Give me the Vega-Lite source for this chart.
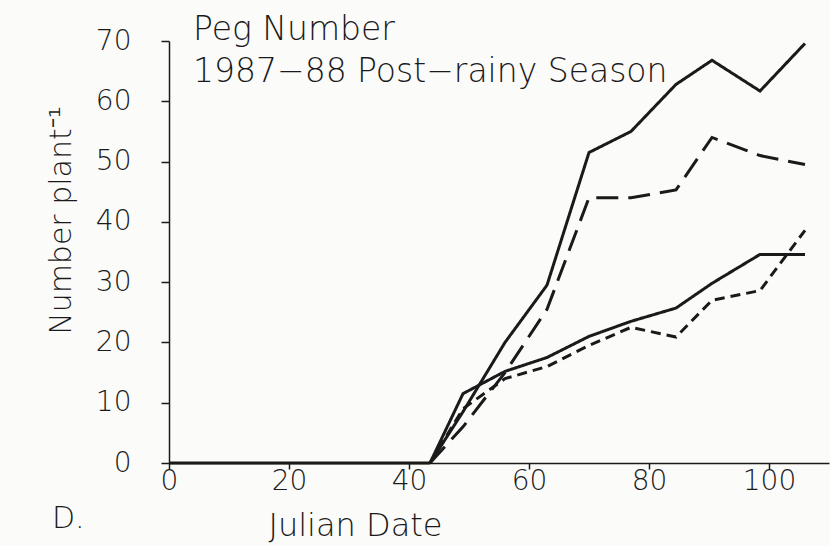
{
  "$schema": "https://vega.github.io/schema/vega-lite/v6.json",
  "autosize": "none",
  "width": 660,
  "height": 422,
  "padding": {"left": 169, "top": 41, "right": 1, "bottom": 83},
  "background": "#fbfbfa",
  "config": {
    "view": {"stroke": null},
    "font": "DejaVu Sans",
    "axis": {"domainColor": "#1a1a1a", "tickColor": "#1a1a1a", "labelColor": "#1a1a1a", "titleColor": "#1a1a1a", "grid": false, "labelFont": "DejaVu Sans", "titleFont": "DejaVu Sans", "labelFontWeight": 200, "titleFontWeight": 200, "domainWidth": 1.5, "tickWidth": 1.5}
  },
  "layer": [
    {
      "data": {"values": [
        {"day": 43.5, "n": 0, "s": "A"}, {"day": 49, "n": 8.5, "s": "A"}, {"day": 56, "n": 20, "s": "A"}, {"day": 63, "n": 29.5, "s": "A"}, {"day": 70, "n": 51.5, "s": "A"}, {"day": 77, "n": 55, "s": "A"}, {"day": 84.5, "n": 62.8, "s": "A"}, {"day": 90.5, "n": 66.8, "s": "A"}, {"day": 98.5, "n": 61.7, "s": "A"}, {"day": 106, "n": 69.6, "s": "A"},
        {"day": 43.5, "n": 0, "s": "B"}, {"day": 49, "n": 6, "s": "B"}, {"day": 56, "n": 15, "s": "B"}, {"day": 63, "n": 25.5, "s": "B"}, {"day": 70, "n": 44, "s": "B"}, {"day": 77, "n": 44, "s": "B"}, {"day": 84.5, "n": 45.3, "s": "B"}, {"day": 90.5, "n": 54, "s": "B"}, {"day": 98.5, "n": 51, "s": "B"}, {"day": 106, "n": 49.5, "s": "B"},
        {"day": 43.5, "n": 0, "s": "C"}, {"day": 49, "n": 11.5, "s": "C"}, {"day": 56, "n": 15.2, "s": "C"}, {"day": 63, "n": 17.5, "s": "C"}, {"day": 70, "n": 21, "s": "C"}, {"day": 77, "n": 23.5, "s": "C"}, {"day": 84.5, "n": 25.7, "s": "C"}, {"day": 90.5, "n": 29.8, "s": "C"}, {"day": 98.5, "n": 34.6, "s": "C"}, {"day": 106, "n": 34.6, "s": "C"},
        {"day": 43.5, "n": 0, "s": "D"}, {"day": 49, "n": 9, "s": "D"}, {"day": 56, "n": 14, "s": "D"}, {"day": 63, "n": 16, "s": "D"}, {"day": 70, "n": 19.5, "s": "D"}, {"day": 77, "n": 22.5, "s": "D"}, {"day": 84.5, "n": 20.9, "s": "D"}, {"day": 90.5, "n": 27, "s": "D"}, {"day": 98.5, "n": 28.6, "s": "D"}, {"day": 106, "n": 38.6, "s": "D"},
        {"day": 0, "n": 0, "s": "Z"}, {"day": 43.5, "n": 0, "s": "Z"}
      ]},
      "mark": {"type": "line", "color": "#1a1a1a", "clip": false},
      "encoding": {
        "x": {"field": "day", "type": "quantitative", "scale": {"domain": [0, 110], "nice": false},
          "axis": {"values": [0, 20, 40, 60, 80, 100], "title": "Julian Date", "titleFontSize": 32, "labelFontSize": 28, "tickSize": 6, "labelPadding": -2, "labelFlush": false, "titleAnchor": "start", "titleX": 99, "titleY": 72, "titleBaseline": "alphabetic", "titleAlign": "left"}},
        "y": {"field": "n", "type": "quantitative", "scale": {"domain": [0, 70], "nice": false},
          "axis": {"values": [0, 10, 20, 30, 40, 50, 60, 70], "title": "Number plant⁻¹", "titleFontSize": 30, "labelFontSize": 28, "tickSize": 8, "labelPadding": 30, "titleAngle": -90, "titleX": -99, "titleY": 179, "titleAlign": "center", "titleBaseline": "alphabetic"}},
        "detail": {"field": "s"},
        "strokeDash": {"field": "s", "type": "nominal", "scale": {"domain": ["A", "B", "C", "D", "Z"], "range": [[1, 0], [22, 10], [1, 0], [10, 6], [1, 0]]}, "legend": null},
        "strokeWidth": {"field": "s", "type": "nominal", "scale": {"domain": ["A", "B", "C", "D", "Z"], "range": [3, 3, 1.6, 1.6, 3]}, "legend": null}
      }
    },
    {
      "data": {"values": [{}]},
      "mark": {"type": "text", "text": "Peg Number", "align": "left", "baseline": "alphabetic", "fontSize": 33, "fontWeight": 200, "color": "#1a1a1a", "clip": false},
      "encoding": {"x": {"datum": 4}, "y": {"datum": 70.1}}
    },
    {
      "data": {"values": [{}]},
      "mark": {"type": "text", "text": "1987−88 Post−rainy Season", "align": "left", "baseline": "alphabetic", "fontSize": 33, "fontWeight": 200, "color": "#1a1a1a", "clip": false},
      "encoding": {"x": {"datum": 4}, "y": {"datum": 63.2}}
    },
    {
      "data": {"values": [{}]},
      "mark": {"type": "text", "text": "D.", "align": "left", "baseline": "alphabetic", "fontSize": 30, "fontWeight": 200, "color": "#1a1a1a", "clip": false},
      "encoding": {"x": {"datum": -19.5}, "y": {"datum": -10.8}}
    }
  ]
}
